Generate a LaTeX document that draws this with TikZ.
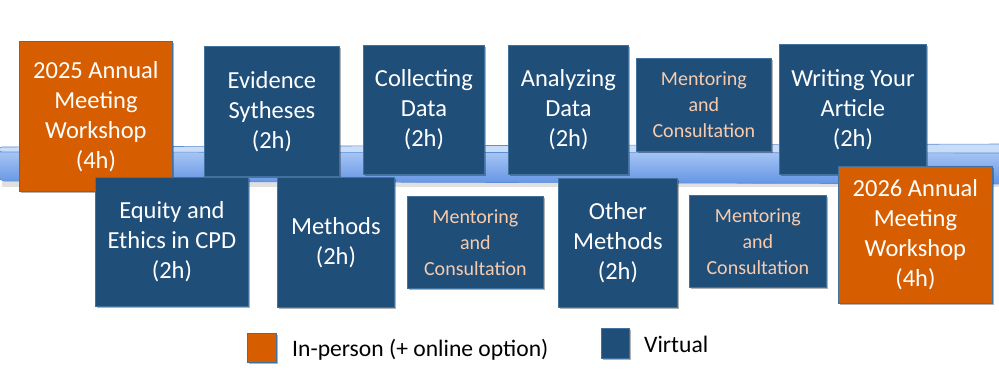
\documentclass[tikz,border=0pt]{standalone}
\usepackage{fontspec}
\setmainfont{Carlito}
\usetikzlibrary{shadows}
\definecolor{navy}{RGB}{31,78,121}
\definecolor{boxedge}{RGB}{65,113,156}
\definecolor{orng}{RGB}{214,94,0}
\definecolor{peach}{RGB}{248,203,173}
\definecolor{bandtop}{RGB}{200,221,248}
\definecolor{bandhi}{RGB}{170,200,245}
\definecolor{bandlo}{RGB}{100,148,228}
\definecolor{bandedge}{RGB}{95,140,214}
\tikzset{
  vbox/.style={draw=boxedge, fill=navy, text=white, line width=0.8pt,
    anchor=north west, inner sep=0pt, align=center,
    font=\fontsize{24.5}{30}\selectfont,
    drop shadow={shadow xshift=1.5pt, shadow yshift=-1.5pt, opacity=0.3, fill=black}},
  obox/.style={vbox, fill=orng},
  mbox/.style={vbox, text=peach, font=\fontsize{20}{26}\selectfont},
  legtext/.style={anchor=base west, inner sep=0pt, font=\fontsize{23.6}{28}\selectfont},
}
\begin{document}
\begin{tikzpicture}[x=1pt, y=-1pt]
\useasboundingbox (0,0) rectangle (999,380);
% band
\fill[black, opacity=0.12] (2,157) rectangle (1005,187);
\shade[top color=bandhi, bottom color=bandlo, draw=bandedge, line width=0.6pt, rounded corners=5pt]
  (-1,150) -- (1006,150) -- (1006,184) -- (-1,181) -- cycle;
\fill[bandtop, draw=bandedge, line width=0.6pt, rounded corners=3pt]
  (-1,147) -- (1006,144) -- (1006,153) -- (-1,152) -- cycle;
% upper row
\node[obox, minimum width=153pt, minimum height=150pt] (w25) at (19,41) {2025 Annual\\Meeting\\Workshop\\(4h)};
\node[vbox, minimum width=135pt, minimum height=130pt] (evid) at (204,46) {Evidence\\Sytheses\\(2h)};
\node[vbox, minimum width=121pt, minimum height=129pt] (coll) at (363,45) {Collecting\\Data\\(2h)};
\node[vbox, minimum width=120pt, minimum height=129pt] (anal) at (508,45) {Analyzing\\Data\\(2h)};
\node[mbox, minimum width=135pt, minimum height=93pt] (ment1) at (636,58) {Mentoring\\and\\Consultation};
\node[vbox, minimum width=147pt, minimum height=130pt] (writ) at (779,44) {Writing Your\\Article\\(2h)};
% lower row
\node[vbox, minimum width=153pt, minimum height=129pt] (equi) at (95,177) {Equity and\\Ethics in CPD\\(2h)};
\node[vbox, minimum width=117pt, minimum height=130pt] (meth) at (277,177) {Methods\\(2h)};
\node[mbox, minimum width=136pt, minimum height=92pt] (ment2) at (407,196) {Mentoring\\and\\Consultation};
\node[vbox, minimum width=119pt, minimum height=129pt] (othm) at (558,178) {Other\\Methods\\(2h)};
\node[mbox, minimum width=137pt, minimum height=92pt] (ment3) at (689,195) {Mentoring\\and\\Consultation};
\node[obox, minimum width=154pt, minimum height=137pt] (w26) at (838,166) {2026 Annual\\Meeting\\Workshop\\(4h)};
% legend
\node[obox, minimum width=29pt, minimum height=29pt, font=\small] (lego) at (247,333) {};
\node[legtext] (legot) at (292,356) {In-person (+ online option)};
\node[vbox, minimum width=28pt, minimum height=30pt, font=\small] (legv) at (601,328) {};
\node[legtext] (legvt) at (644,352) {Virtual};
\end{tikzpicture}
\end{document}
